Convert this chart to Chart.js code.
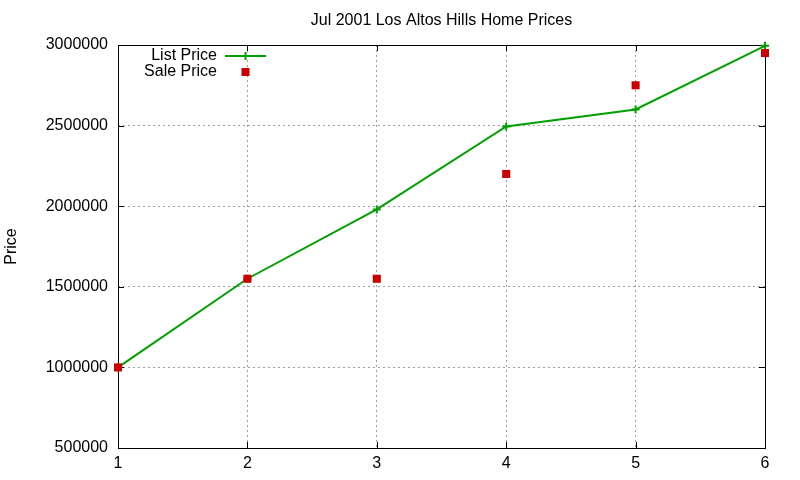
<!DOCTYPE html>
<html>
<head>
<meta charset="utf-8">
<script src="https://cdn.jsdelivr.net/npm/chart.js@4"></script>
<style>
  html, body { margin: 0; padding: 0; background: #fff; }
  #wrap { width: 800px; height: 480px; }
</style>
</head>
<body>
<div id="wrap"><canvas id="priceChart" width="800" height="480"></canvas></div>
<script>
// ===== Data =====
const homeIndex = [1, 2, 3, 4, 5, 6];
const listPrice = [1000000, 1550000, 1980000, 2495000, 2600000, 2995000];
const salePrice = [1000000, 1550000, 1550000, 2200000, 2750000, 2950000];
const yTickValues = [500000, 1000000, 1500000, 2000000, 2500000, 3000000];
const xTickValues = [1, 2, 3, 4, 5, 6];

const FONT = 'Liberation Sans, Arial, sans-serif';
const GREEN = '#00a000';
const RED = '#cc0000';

// ===== Frame + inward tick marks (gnuplot style) =====
const framePlugin = {
  id: 'frame',
  beforeDatasetsDraw(chart) {
    const { ctx, chartArea: a, scales } = chart;
    ctx.save();
    ctx.strokeStyle = '#000';
    ctx.lineWidth = 1;
    ctx.setLineDash([]);
    ctx.beginPath();
    yTickValues.forEach(v => {
      const y = Math.round(scales.y.getPixelForValue(v)) + 0.5;
      ctx.moveTo(a.left, y); ctx.lineTo(a.left + 6, y);
      ctx.moveTo(a.right, y); ctx.lineTo(a.right - 6, y);
    });
    xTickValues.forEach(v => {
      const x = Math.round(scales.x.getPixelForValue(v)) + 0.5;
      ctx.moveTo(x, a.bottom); ctx.lineTo(x, a.bottom - 6);
      ctx.moveTo(x, a.top); ctx.lineTo(x, a.top + 6);
    });
    ctx.stroke();
    ctx.strokeRect(Math.round(a.left) + 0.5, Math.round(a.top) + 0.5,
      Math.round(a.right - a.left), Math.round(a.bottom - a.top));
    ctx.restore();
  }
};

// ===== Key inside top-left, text then sample =====
const keyPlugin = {
  id: 'key',
  afterDatasetsDraw(chart) {
    const { ctx, chartArea: a } = chart;
    const ds = chart.data.datasets;
    const textRight = a.left + 99;
    const sampleL = a.left + 107, sampleR = a.left + 148;
    const mid = (sampleL + sampleR) / 2;
    ctx.save();
    ctx.font = '16px ' + FONT;
    ctx.fillStyle = '#000';
    ctx.textAlign = 'right';
    ctx.textBaseline = 'middle';
    // List Price row
    let y = a.top + 11;
    ctx.fillText(ds[0].label, textRight, y);
    ctx.strokeStyle = GREEN;
    ctx.lineWidth = 2;
    ctx.beginPath();
    ctx.moveTo(sampleL, y); ctx.lineTo(sampleR, y);
    ctx.moveTo(mid, y - 4); ctx.lineTo(mid, y + 4);
    ctx.stroke();
    // Sale Price row
    y = a.top + 27;
    ctx.fillText(ds[1].label, textRight, y);
    ctx.fillStyle = RED;
    ctx.fillRect(mid - 4, y - 4, 8, 8);
    ctx.restore();
  }
};

// ===== Chart =====
const ctx = document.getElementById('priceChart').getContext('2d');
const priceChart = new Chart(ctx, {
  type: 'line',
  data: {
    datasets: [
      {
        label: 'List Price',
        data: homeIndex.map((x, i) => ({ x, y: listPrice[i] })),
        borderColor: GREEN,
        backgroundColor: GREEN,
        borderWidth: 2,
        pointStyle: 'cross',
        pointRadius: 4,
        pointBorderWidth: 2,
        pointBorderColor: GREEN,
        tension: 0,
        fill: false,
        clip: false,
        order: 2
      },
      {
        label: 'Sale Price',
        data: homeIndex.map((x, i) => ({ x, y: salePrice[i] })),
        showLine: false,
        backgroundColor: RED,
        borderColor: RED,
        pointStyle: 'rect',
        pointRadius: 5.7,
        pointBorderWidth: 0,
        clip: false,
        order: 1
      }
    ]
  },
  options: {
    responsive: false,
    animation: false,
    devicePixelRatio: 1,
    layout: { padding: { left: 0, right: 35, top: 0, bottom: 0 } },
    plugins: {
      legend: { display: false },
      tooltip: { enabled: false },
      title: {
        display: true,
        fullSize: false,
        text: 'Jul 2001 Los Altos Hills Home Prices',
        color: '#000',
        font: { family: FONT, size: 16, weight: 'normal', lineHeight: 1.2 },
        padding: { top: 11, bottom: 14.8 }
      }
    },
    scales: {
      x: {
        type: 'linear',
        min: 1,
        max: 6,
        afterBuildTicks: s => { s.ticks = xTickValues.map(v => ({ value: v })); },
        afterFit: s => { s.height = 32; },
        grid: { color: '#a0a0a0', lineWidth: 1, drawTicks: false },
        border: { display: false, dash: [2, 3] },
        ticks: { color: '#000', padding: 6, font: { family: FONT, size: 16 } }
      },
      y: {
        min: 500000,
        max: 3000000,
        afterBuildTicks: s => { s.ticks = yTickValues.map(v => ({ value: v })); },
        afterFit: s => { s.width = 118; },
        grid: { color: '#a0a0a0', lineWidth: 1, drawTicks: false },
        border: { display: false, dash: [2, 3] },
        ticks: {
          color: '#000',
          padding: 10,
          font: { family: FONT, size: 16 },
          callback: v => String(v)
        },
        title: {
          display: true,
          text: 'Price',
          color: '#000',
          font: { family: FONT, size: 16 },
          padding: { top: 2, bottom: 0 }
        }
      }
    }
  },
  plugins: [framePlugin, keyPlugin]
});
</script>
</body>
</html>
